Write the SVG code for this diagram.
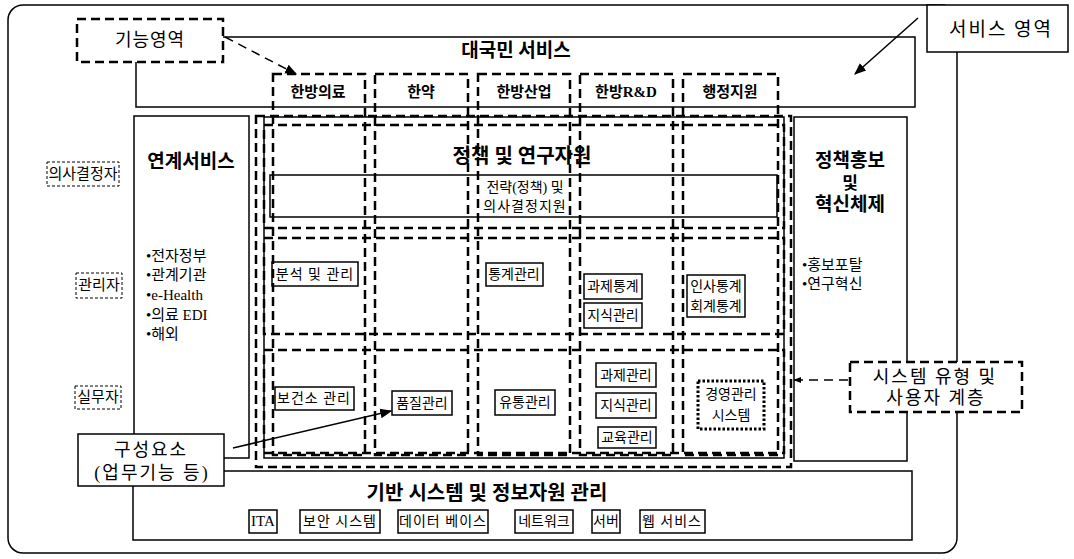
<svg xmlns="http://www.w3.org/2000/svg" width="1074" height="559" viewBox="0 0 1074 559">
<style>
.t{font-family:"Liberation Serif","Noto Sans CJK KR",serif;fill:#000;dominant-baseline:central}
.b{font-weight:bold}
.c{text-anchor:middle}
.solid{fill:none;stroke:#000;stroke-width:1.5}
.box{fill:#fff;stroke:#000;stroke-width:1.5}
.dash{fill:none;stroke:#000;stroke-width:2.5;stroke-dasharray:9 5}
.dashw{fill:#fff;stroke:#000;stroke-width:2.5;stroke-dasharray:9 5}
.tdash{fill:none;stroke:#000;stroke-width:1;stroke-dasharray:3 2}
.dot{fill:none;stroke:#000;stroke-width:3;stroke-dasharray:2.5 2}
.ln{fill:none;stroke:#000;stroke-width:1.5}
</style>
<defs>
<marker id="ah" viewBox="0 0 10 10" refX="9" refY="5" markerWidth="8" markerHeight="8" orient="auto" markerUnits="userSpaceOnUse">
<path d="M0,1 L10,5 L0,9 z" fill="#000"/>
</marker>
<marker id="ah2" viewBox="0 0 10 10" refX="9" refY="5" markerWidth="12" markerHeight="12" orient="auto" markerUnits="userSpaceOnUse">
<path d="M0,1 L10,5 L0,9 z" fill="#000"/>
</marker>
</defs>

<g id="frame">
<rect x="8" y="5" width="949" height="548" rx="15" class="solid"/>
</g>

<g id="top-service">
<rect x="136" y="37" width="779" height="70" class="solid"/>
<text x="516" y="50" class="t b c" font-size="19">대국민 서비스</text>
</g>

<g id="linked-service">
<rect x="134" y="116" width="115" height="342" class="solid"/>
<text x="191" y="161" class="t b c" font-size="19">연계서비스</text>
<text x="146" y="256" class="t" font-size="15">•전자정부</text>
<text x="146" y="275" class="t" font-size="15">•관계기관</text>
<text x="146" y="295" class="t" font-size="15">•e-Health</text>
<text x="146" y="315" class="t" font-size="15">•의료 EDI</text>
<text x="146" y="334" class="t" font-size="15">•해외</text>
</g>

<g id="policy-pr">
<rect x="794" y="117" width="113" height="344" class="solid"/>
<text x="850" y="160" class="t b c" font-size="19">정책홍보</text>
<text x="850" y="183" class="t b c" font-size="17">및</text>
<text x="850" y="204" class="t b c" font-size="19">혁신체제</text>
<text x="802" y="265" class="t" font-size="15">•홍보포탈</text>
<text x="802" y="284" class="t" font-size="15">•연구혁신</text>
</g>

<g id="infra">
<rect x="133" y="471" width="779" height="69" class="solid"/>
<text x="487" y="493" class="t b c" font-size="20">기반 시스템 및 정보자원 관리</text>
<rect x="249" y="510" width="28" height="23" class="solid"/>
<text x="263" y="521" class="t c" font-size="15">ITA</text>
<rect x="300" y="510" width="80" height="23" class="solid"/>
<text x="340" y="521" class="t c" font-size="14" letter-spacing="1">보안 시스템</text>
<rect x="398" y="510" width="90" height="23" class="solid"/>
<text x="443" y="521" class="t c" font-size="14" letter-spacing="1">데이터 베이스</text>
<rect x="515" y="510" width="58" height="23" class="solid"/>
<text x="544" y="521" class="t c" font-size="14">네트워크</text>
<rect x="592" y="510" width="28" height="23" class="solid"/>
<text x="606" y="521" class="t c" font-size="14">서버</text>
<rect x="640" y="510" width="65" height="23" class="solid"/>
<text x="672" y="521" class="t c" font-size="14" letter-spacing="1">웹 서비스</text>
</g>

<g id="core-area">
<rect x="264" y="117" width="520" height="341" class="solid"/>
<rect x="256" y="116" width="535" height="351" class="dash"/>
</g>

<g id="columns">
<rect x="273" y="74" width="92" height="381" class="dash"/>
<rect x="375" y="74" width="93" height="381" class="dash"/>
<rect x="478" y="74" width="92" height="381" class="dash"/>
<rect x="580" y="74" width="93" height="381" class="dash"/>
<rect x="683" y="74" width="95" height="381" class="dash"/>
<text x="318" y="92" class="t b c" font-size="15">한방의료</text>
<text x="421" y="92" class="t b c" font-size="15">한약</text>
<text x="524" y="92" class="t b c" font-size="15">한방산업</text>
<text x="626" y="92" class="t b c" font-size="15">한방R&amp;D</text>
<text x="730" y="92" class="t b c" font-size="15">행정지원</text>
</g>

<g id="row-policy">
<rect x="264" y="125" width="520" height="103" class="dash"/>
<text x="522" y="156" class="t b c" font-size="20">정책 및 연구자원</text>
<rect x="270" y="175" width="507" height="42" class="solid"/>
<text x="525" y="187" class="t c" font-size="14">전략(정책) 및</text>
<text x="525" y="206" class="t c" font-size="14" letter-spacing="1">의사결정지원</text>
</g>

<g id="row-manager">
<rect x="264" y="238" width="520" height="96" class="dash"/>
<rect x="272" y="262" width="86" height="24" class="solid"/>
<text x="315" y="274" class="t c" font-size="14" letter-spacing="1">분석 및 관리</text>
<rect x="486" y="263" width="57" height="23" class="solid"/>
<text x="514" y="274" class="t c" font-size="14">통계관리</text>
<rect x="584" y="274" width="58" height="25" class="solid"/>
<text x="613" y="286" class="t c" font-size="14">과제통계</text>
<rect x="584" y="303" width="58" height="25" class="solid"/>
<text x="613" y="315" class="t c" font-size="14">지식관리</text>
<rect x="687" y="275" width="58" height="42" class="solid"/>
<text x="716" y="286" class="t c" font-size="14">인사통계</text>
<text x="716" y="306" class="t c" font-size="14">회계통계</text>
</g>

<g id="row-worker">
<rect x="264" y="350" width="520" height="103" class="dash"/>
<rect x="275" y="387" width="79" height="23" class="solid"/>
<text x="314" y="398" class="t c" font-size="14" letter-spacing="1">보건소 관리</text>
<rect x="392" y="391" width="60" height="24" class="solid"/>
<text x="422" y="403" class="t c" font-size="14">품질관리</text>
<rect x="495" y="390" width="60" height="25" class="solid"/>
<text x="525" y="402" class="t c" font-size="14">유통관리</text>
<rect x="596" y="363" width="60" height="24" class="solid"/>
<text x="626" y="375" class="t c" font-size="14">과제관리</text>
<rect x="596" y="393" width="60" height="25" class="solid"/>
<text x="626" y="405" class="t c" font-size="14">지식관리</text>
<rect x="598" y="427" width="58" height="21" class="solid"/>
<text x="627" y="437" class="t c" font-size="14">교육관리</text>
<rect x="698" y="381" width="66" height="48" class="dot"/>
<text x="731" y="394" class="t c" font-size="14">경영관리</text>
<text x="731" y="415" class="t c" font-size="14">시스템</text>
</g>

<g id="user-levels">
<rect x="47" y="162" width="72" height="24" class="tdash"/>
<text x="83" y="174" class="t c" font-size="15">의사결정자</text>
<rect x="76" y="273" width="46" height="25" class="tdash"/>
<text x="99" y="285" class="t c" font-size="15">관리자</text>
<rect x="75" y="386" width="46" height="23" class="tdash"/>
<text x="98" y="397" class="t c" font-size="15">실무자</text>
</g>

<g id="callout-function">
<rect x="77" y="19" width="146" height="43" class="dashw"/>
<text x="150" y="40" class="t c" font-size="18" letter-spacing="1">기능영역</text>
</g>

<g id="callout-service">
<rect x="927" y="5" width="141" height="47" class="box"/>
<text x="1001" y="29" class="t c" font-size="19" letter-spacing="2">서비스 영역</text>
</g>

<g id="callout-component">
<rect x="78" y="434" width="146" height="52" class="box"/>
<text x="151" y="450" class="t c" font-size="18" letter-spacing="2">구성요소</text>
<text x="152" y="473" class="t c" font-size="18" letter-spacing="2">(업무기능 등)</text>
</g>

<g id="callout-system">
<rect x="850" y="362" width="172" height="50" class="dashw"/>
<text x="935" y="377" class="t c" font-size="18" letter-spacing="2">시스템 유형 및</text>
<text x="936" y="398" class="t c" font-size="18" letter-spacing="2">사용자 계층</text>
</g>

<g id="connectors">
<line x1="225" y1="37" x2="296" y2="74" class="ln" stroke-width="2.5" stroke-dasharray="9 6" marker-end="url(#ah2)"/>
<line x1="918" y1="18" x2="855" y2="74" class="ln" marker-end="url(#ah2)"/>
<line x1="233" y1="448" x2="391" y2="411" class="ln" marker-end="url(#ah2)"/>
<line x1="848" y1="380" x2="794" y2="380" class="ln" stroke-width="2.5" stroke-dasharray="9 6" marker-end="url(#ah)"/>
</g>
</svg>
